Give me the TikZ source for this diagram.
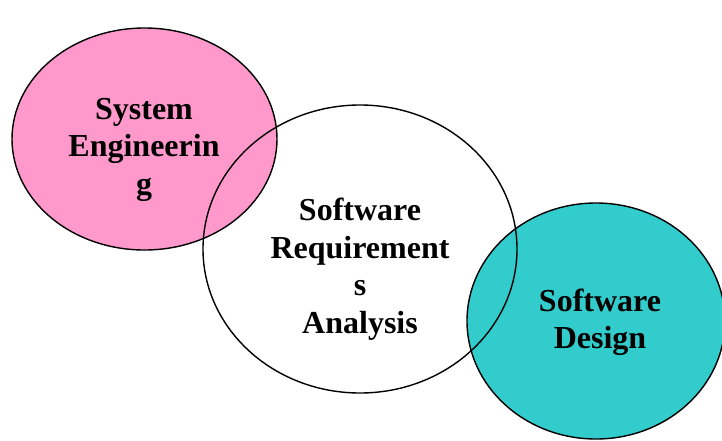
\documentclass[tikz,border=0pt]{standalone}
\usepackage{fontspec}
\setmainfont{Liberation Serif}
\definecolor{rosa}{HTML}{FF99CC}
\definecolor{tuerkis}{HTML}{33CCCC}
\begin{document}
\begin{tikzpicture}[x=1pt,y=-1pt,line width=1.4pt,
  label/.style={align=center,font=\fontsize{32}{37.5}\selectfont\bfseries}]
\useasboundingbox (0,0) rectangle (722,440);
\fill[color=rosa] (144.5,139) ellipse [x radius=132.5,y radius=111];
\fill[color=tuerkis] (596,321) ellipse [x radius=129,y radius=118];
\draw[black] (144.5,139) ellipse [x radius=132.5,y radius=111];
\draw[black] (596,321) ellipse [x radius=129,y radius=118];
\draw[black] (360,249) ellipse [x radius=157,y radius=144];
\node[label] (syseng) at (144,149.5) {System\\Engineerin\\g};
\node[label] (swreq) at (360,269) {Software\\Requirement\\s\\Analysis};
\node[label] (swdes) at (600,322.5) {Software\\Design};
\end{tikzpicture}
\end{document}
